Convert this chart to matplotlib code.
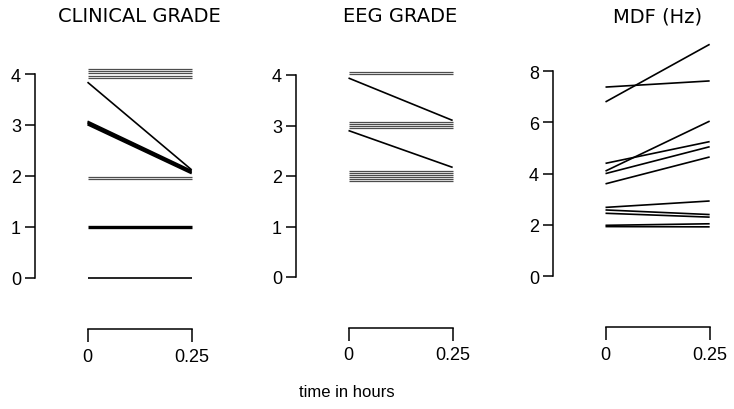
import numpy as np
import matplotlib
matplotlib.use('Agg')
import matplotlib.pyplot as plt
from matplotlib.transforms import blended_transform_factory

plt.rcParams['font.family'] = ['Liberation Sans', 'DejaVu Sans']

# time points (hours)
times = [0, 0.25]

# clinical grade: value at 0 h and at 0.25 h for each patient
clin_start = [4.09, 4.05, 4.01, 3.97, 3.92, 3.84, 3.07, 3.04, 3.01, 1.98, 1.94, 1.0, 0.0]
clin_end   = [4.09, 4.05, 4.01, 3.97, 3.92, 2.12, 2.10, 2.07, 2.05, 1.98, 1.94, 1.0, 0.0]

# EEG grade
eeg_start = [4.06, 4.02, 3.94, 3.07, 3.03, 2.99, 2.95, 2.90, 2.10, 2.06, 2.02, 1.98, 1.94, 1.90]
eeg_end   = [4.06, 4.02, 3.10, 3.07, 3.03, 2.99, 2.95, 2.17, 2.10, 2.06, 2.02, 1.98, 1.94, 1.90]

# median dominant frequency (Hz)
mdf_start = [6.80, 7.38, 4.10, 4.40, 4.00, 3.60, 2.68, 2.58, 2.45, 1.98, 1.93]
mdf_end   = [9.05, 7.62, 6.05, 5.25, 5.05, 4.65, 2.93, 2.40, 2.30, 2.04, 1.92]

titles = ['CLINICAL GRADE', 'EEG GRADE', 'MDF (Hz)']
yticks = [[0, 1, 2, 3, 4], [0, 1, 2, 3, 4], [0, 2, 4, 6, 8]]


def line_style(a, b, band):
    # flat lines in the crowded bands look grey/hatched in the original
    if band and a == b:
        return dict(color='0.3', lw=0.9)
    return dict(color='black', lw=1.2)


W, H = 734, 410
fig = plt.figure(figsize=(W / 100, H / 100), dpi=100)

lefts = [35, 296, 553]  # pixel x of the y spines
top_px, bot_px = 55, 345
ax_w = 165
# (pixel of y=0, px per unit, bracket y)
ymaps = [(279, 51.0, -1), (278, 50.5, -1), (277, 25.6, -2)]
data = [(clin_start, clin_end), (eeg_start, eeg_end), (mdf_start, mdf_end)]

for k in range(3):
    ax = fig.add_axes([lefts[k] / W, 1 - bot_px / H, ax_w / W, (bot_px - top_px) / H])
    y0, unit, ybr = ymaps[k]
    ax.set_ylim(-(bot_px - y0) / unit, (y0 - top_px) / unit)
    ax.set_xlim(-0.126, 0.27)
    s, e = data[k]
    for a, b in zip(s, e):
        st = line_style(a, b, k < 2 and a not in (0.0, 1.0))
        if k == 0 and a in (3.07, 3.04, 3.01):
            st = dict(color='black', lw=1.5)
        if k == 0 and a == 1.0:
            st = dict(color='black', lw=2.4)
        ax.plot(times, [a, b], solid_capstyle='butt', clip_on=False, **st)

    for sp in ['top', 'right']:
        ax.spines[sp].set_visible(False)
    ax.spines['left'].set_bounds(yticks[k][0], yticks[k][-1])
    ax.spines['left'].set_linewidth(1.1)
    ax.spines['bottom'].set_position(('data', ybr))
    ax.spines['bottom'].set_bounds(0, 0.25)
    ax.spines['bottom'].set_linewidth(1.1)
    ax.set_yticks(yticks[k])
    ax.set_xticks(times)
    ax.set_xticklabels(['0', '0.25'])
    ax.tick_params(axis='y', direction='out', length=7, width=1.1, labelsize=13, pad=3)
    ax.tick_params(axis='x', direction='out', length=9.5, width=1.1, labelsize=13, pad=4)
    ax.patch.set_visible(False)

    tr = blended_transform_factory(ax.transData, fig.transFigure)
    ax.text(0.125, 1 - 17 / H, titles[k], transform=tr, ha='center', va='center',
            fontsize=14, family=['DejaVu Sans'])

fig.text(347 / W, 1 - 393 / H, 'time in hours', ha='center', va='center', fontsize=12)

fig.savefig('out.png', dpi=100)
